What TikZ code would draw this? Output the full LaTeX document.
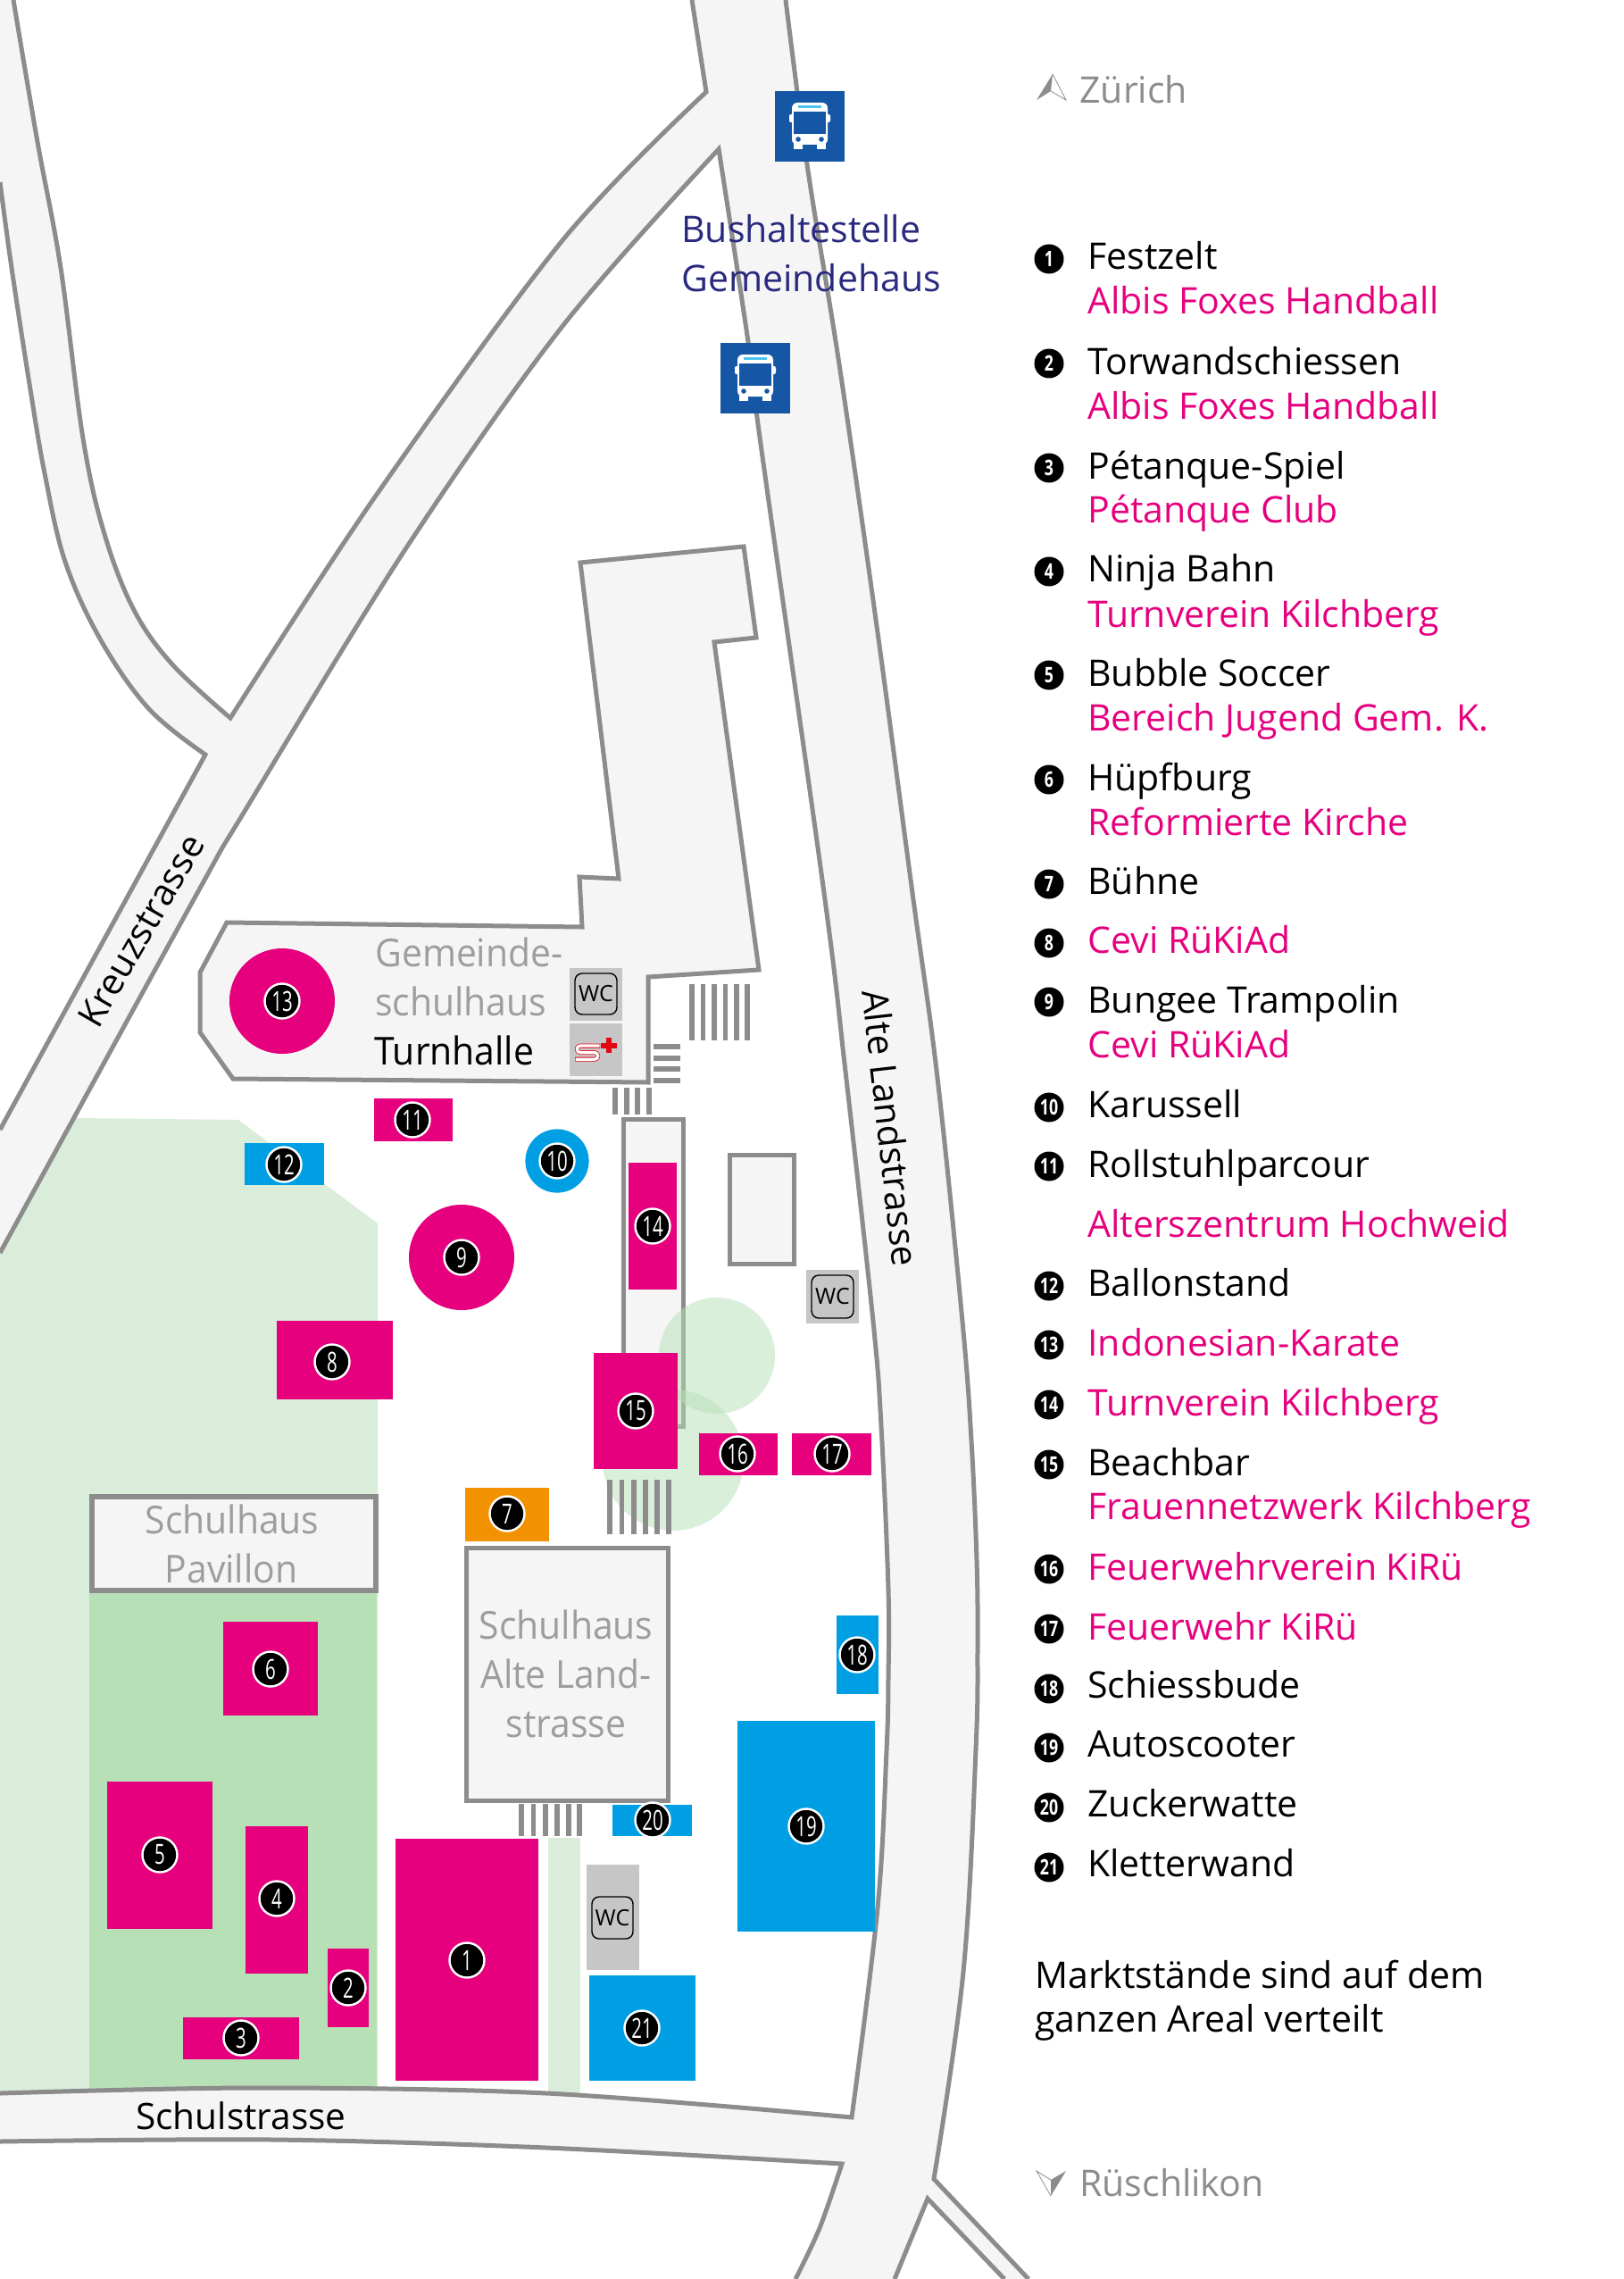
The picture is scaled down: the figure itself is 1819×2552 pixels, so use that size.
\documentclass[tikz,border=0pt]{standalone}
\usepackage{fontspec}
\setmainfont[FakeStretch=1.0]{Open Sans}
\newfontfamily\bldfont[FakeStretch=0.95]{Open Sans}
\newfontfamily\numfont[FakeStretch=0.66]{Open Sans}
\newfontfamily\legnum[FakeStretch=0.74]{Open Sans}
\definecolor{mpink}{HTML}{E6007E}
\definecolor{mblue}{HTML}{009FE3}
\definecolor{morange}{HTML}{F39200}
\definecolor{roadfill}{HTML}{F5F5F5}
\definecolor{roadline}{HTML}{8C8C8C}
\definecolor{lgreen}{HTML}{D9EDDA}
\definecolor{dgreen}{HTML}{B7E0B7}
\definecolor{busblue}{HTML}{1557A4}
\definecolor{bustext}{HTML}{29297F}
\definecolor{bldtext}{HTML}{9D9D9C}
\definecolor{wcgrey}{HTML}{C6C6C6}
\definecolor{scyan}{HTML}{4FC3F0}
\definecolor{crossred}{HTML}{E30613}
\def\eA{-- plot[smooth,tension=.6] coordinates {(15,0)(42,159)(68,300)(93,491)(117,598)(150,683)(193,744)(258,804)} -- plot[smooth,tension=.55] coordinates {(258,804)(421,555)(631,268)(791,103)} -- (775,0)}
\def\eB{-- plot[smooth,tension=.6] coordinates {(880,0)(905,191)(940,408)(982,701)(1022,1000)(1050,1207)(1078,1480)(1088,1613)(1094,1747)(1095,1847)(1093,1960)(1079,2208)(1046,2440)} -- (1152,2552)}
\def\eC{-- (1125,2552) -- (1039,2462) -- (1002,2552)}
\def\eD{-- plot[smooth,tension=.55] coordinates {(891,2552)(918,2495)(943,2423)} -- plot[smooth,tension=.55] coordinates {(943,2423)(612,2405)(306,2396)(0,2398)}}
\def\eE{-- plot[smooth,tension=.55] coordinates {(0,2344)(283,2338)(612,2344)(954,2371)} -- plot[smooth,tension=.6] coordinates {(954,2371)(983,2136)(993,1960)(995,1880)(995,1780)(987,1597)(978,1480)(947,1200)(923,1000)(852,497)(838,383)(805,167)} -- plot[smooth,tension=.55] coordinates {(805,167)(631,364)(456,612)(273,910)(221,1000)(0,1403)}}
\def\eF{-- (0,1265) -- (230,845) -- plot[smooth,tension=.6] coordinates {(230,845)(167,794)(113,717)(73,629)(50,530)(33,430)(13,300)(0,204)}}
\tikzset{
 x=0.5pt,y=-0.5pt,
 roadedge/.style={draw=roadline,line width=2.5pt,line join=miter},
 bld/.style={draw=roadline,fill=roadfill,line width=2.5pt,line join=miter},
 bld2/.style={draw=roadline,fill=roadfill,line width=3.2pt,line join=miter},
 stripe/.style={draw=roadline,line width=2.7pt},
 pinkbox/.style={fill=mpink},
 bluebox/.style={fill=mblue},
 orangebox/.style={fill=morange},
 wcbox/.style={fill=wcgrey},
 wcin/.style={draw=black,line width=0.7pt,rounded corners=4pt},
 wctext/.style={inner sep=0pt,font=\fontsize{12.5}{12}\selectfont},
 badge/.style={circle,fill=black,draw=white,line width=1.2pt,minimum size=19.5pt,inner sep=0pt,text=white,font=\numfont\fontsize{15.5}{16}\selectfont},
 legdot/.style={circle,fill=black,minimum size=16.5pt,inner sep=0pt,text=white,font=\legnum\bfseries\fontsize{12}{12}\selectfont},
 txt/.style={anchor=base west,inner sep=0pt,font=\fontsize{20.5}{24}\selectfont},
 legk/.style={txt,text=black},
 legp/.style={txt,text=mpink},
 graytxt/.style={txt,text=roadline},
 bldt/.style={anchor=base west,inner sep=0pt,text=bldtext,font=\bldfont\fontsize{21.5}{24}\selectfont},
 bldc/.style={bldt,anchor=base},
 street/.style={anchor=base,inner sep=0pt,text=black,font=\fontsize{20.3}{24}\selectfont},
 bustxt/.style={txt,text=bustext},
}
\newcommand{\busicon}[2]{%
 \begin{scope}[shift={(#1,#2)}]
  \fill[busblue] (0,0) rectangle (78,79);
  \fill[white,rounded corners=3pt] (19,13) rectangle (59,60);
  \fill[white,rounded corners=1pt] (16,26) rectangle (62,35);
  \fill[white] (21,55) rectangle (31,65);
  \fill[white] (47,55) rectangle (57,65);
  \fill[busblue] (21,23) rectangle (57,48);
  \fill[scyan] (26,16) rectangle (52,19);
  \fill[busblue] (26,54) circle (1.4pt);
  \fill[busblue] (52,54) circle (1.4pt);
 \end{scope}}
\begin{document}
\begin{tikzpicture}
\useasboundingbox (0,0) rectangle (1819,2552);
\fill[white] (0,0) rectangle (1819,2552);
% green areas
\fill[lgreen] (0,1403) -- (84,1252) -- (267,1254) -- (423,1370) -- (423,2345) -- (0,2345) -- cycle;
\fill[dgreen] (100,1780) rectangle (422,2345);
\fill[lgreen] (614,2058) rectangle (650,2350);
% road network
\fill[roadfill] (15,0) \eA \eB \eC \eD \eE \eF -- (0,0) -- cycle;
\draw[roadedge] (15,0) \eA;
\draw[roadedge] (880,0) \eB;
\draw[roadedge] (1125,2552) \eC;
\draw[roadedge] (891,2552) \eD;
\draw[roadedge] (0,2344) \eE;
\draw[roadedge] (0,1265) \eF;
% buildings
\draw[bld] (650,630) -- (833,612) -- (847,714) -- (800,719) -- (850,1086) -- (726,1094) -- (726,1212) -- (261,1208) -- (224,1156) -- (224,1089) -- (254,1033) -- (652,1038) -- (649,982) -- (693,984) -- cycle;
\draw[bld] (698,1253) rectangle (765,1597);
\draw[bld] (817,1293) rectangle (889,1415);
\draw[bld2] (103,1676) rectangle (421,1781);
\draw[bld] (522,1733) rectangle (748,2016);
% tree circles
\fill[dgreen,opacity=.5] (803,1518) circle (32.5pt);
\fill[dgreen,opacity=.5] (754,1635) circle (39.5pt);
% stripes
\foreach \x in {775,787.5,800,812.5,825,837} \draw[stripe] (\x,1102) -- (\x,1165);
\foreach \y in {1172,1185,1197,1210} \draw[stripe] (732,\y) -- (762,\y);
\foreach \x in {689,702,714,727} \draw[stripe] (\x,1218) -- (\x,1248);
\foreach \x in {683,696.5,710,723,736,749} \draw[stripe] (\x,1657) -- (\x,1718);
\foreach \x in {584,597.5,611,624,637,649} \draw[stripe] (\x,2020) -- (\x,2056);
% service boxes
\fill[wcbox] (638,1084) rectangle (697,1143);
\fill[wcbox] (638,1146) rectangle (697,1205);
\fill[wcbox] (903,1422) rectangle (962,1482);
\fill[wcbox] (657,2088) rectangle (716,2206);
\draw[wcin] (644,1090) rectangle (691,1136);
\draw[wcin] (909,1428) rectangle (956,1476);
\draw[wcin] (663,2124) rectangle (709,2171);
\node[wctext] (wc1) at (667.5,1113) {WC};
\node[wctext] (wc2) at (932.5,1452) {WC};
\node[wctext] (wc3) at (686,2148) {WC};
% first-aid logo
\draw[crossred,line width=2.5pt,line join=round] (672,1171) -- (650,1171) arc[start angle=90,end angle=270,radius=1.9pt] -- (666,1178.6) arc[start angle=90,end angle=-90,radius=1.9pt] -- (644,1186.2);
\draw[white,line width=1.7pt,line join=round] (671.5,1171) -- (650,1171) arc[start angle=90,end angle=270,radius=1.9pt] -- (666,1178.6) arc[start angle=90,end angle=-90,radius=1.9pt] -- (644.5,1186.2);
\fill[crossred] (673,1167.5) rectangle (691,1173.5);
\fill[crossred] (679,1162) rectangle (685,1179);
% stands
\fill[pinkbox] (316,1121) circle (29.5pt);
\fill[pinkbox] (517,1408) circle (29.5pt);
\fill[bluebox] (624,1300) circle (17.8pt);
\fill[pinkbox] (419,1230) rectangle (507,1278);
\fill[bluebox] (274,1280) rectangle (363,1327);
\fill[pinkbox] (704,1302) rectangle (758,1444);
\fill[pinkbox] (310,1479) rectangle (440,1567);
\fill[pinkbox] (665,1515) rectangle (759,1645);
\fill[pinkbox] (783,1605) rectangle (871,1652);
\fill[pinkbox] (887,1605) rectangle (976,1652);
\fill[orangebox] (521,1666) rectangle (615,1726);
\fill[bluebox] (937,1809) rectangle (984,1897);
\fill[bluebox] (826,1927) rectangle (980,2163);
\fill[bluebox] (686,2021) rectangle (775,2056);
\fill[bluebox] (660,2212) rectangle (779,2330);
\fill[pinkbox] (443,2059) rectangle (603,2330);
\fill[pinkbox] (367,2182) rectangle (413,2270);
\fill[pinkbox] (205,2259) rectangle (335,2306);
\fill[pinkbox] (275,2045) rectangle (345,2210);
\fill[pinkbox] (120,1995) rectangle (238,2160);
\fill[pinkbox] (250,1816) rectangle (356,1921);
% badges
\node[badge] (b1) at (523,2195) {1};
\node[badge] (b2) at (390,2226) {2};
\node[badge] (b3) at (270,2282) {3};
\node[badge] (b4) at (310,2126) {4};
\node[badge] (b5) at (179,2077) {5};
\node[badge] (b6) at (303,1869) {6};
\node[badge] (b7) at (568,1695) {7};
\node[badge] (b8) at (372,1525) {8};
\node[badge] (b9) at (517,1408) {9};
\node[badge] (b10) at (624,1300) {10};
\node[badge] (b11) at (462,1254) {11};
\node[badge] (b12) at (318,1304) {12};
\node[badge] (b13) at (316,1121) {13};
\node[badge] (b14) at (731,1373) {14};
\node[badge] (b15) at (712,1580) {15};
\node[badge] (b16) at (826,1628) {16};
\node[badge] (b17) at (932,1628) {17};
\node[badge] (b18) at (960,1853) {18};
\node[badge] (b19) at (903,2045) {19};
\node[badge] (b20) at (731,2038) {20};
\node[badge] (b21) at (719,2271) {21};
% building labels
\node[bldt] (g1) at (420,1082) {Gemeinde-};
\node[bldt] (g2) at (420,1137) {schulhaus};
\node[bldt,text=black] (g3) at (419,1192) {Turnhalle};
\node[bldc] (p1) at (260,1717) {Schulhaus};
\node[bldc] (p2) at (259,1772) {Pavillon};
\node[bldc] (a1) at (634,1835) {Schulhaus};
\node[bldc] (a2) at (634,1890) {Alte Land-};
\node[bldc] (a3) at (634,1945) {strasse};
% street labels
\node[street] (s1) at (270,2384) {Schulstrasse};
\node[street,anchor=center,rotate=60] (s2) at (158,1042) {Kreuzstrasse};
\node[street,anchor=center,rotate=-83.5] (s3) at (998,1263) {Alte Landstrasse};
% bus
\busicon{868}{102}
\busicon{807}{384}
\node[bustxt] (h1) at (763,272) {Bushaltestelle};
\node[bustxt] (h2) at (763,327) {Gemeindehaus};
% direction labels
\fill[roadline] (1179,83) -- (1161,112) -- (1177,102) -- cycle;
\draw[roadline,line width=0.4pt,line join=miter] (1179,83) -- (1194,112) -- (1177,102);
\node[graytxt] (z) at (1209,116) {Zürich};
\fill[roadline] (1177,2459) -- (1194,2431) -- (1177,2441) -- cycle;
\draw[roadline,line width=0.4pt,line join=miter] (1177,2459) -- (1161,2431) -- (1177,2441);
\node[graytxt] (r) at (1209,2459) {Rüschlikon};
% legend
\node[legdot] (d1) at (1175,290) {1};
\node[legk] (t1) at (1218,302) {Festzelt};
\node[legp] (u1) at (1218,352) {Albis Foxes Handball};
\node[legdot] (d2) at (1175,407) {2};
\node[legk] (t2) at (1218,419) {Torwandschiessen};
\node[legp] (u2) at (1218,469) {Albis Foxes Handball};
\node[legdot] (d3) at (1175,524) {3};
\node[legk] (t3) at (1218,536) {Pétanque-Spiel};
\node[legp] (u3) at (1218,585) {Pétanque Club};
\node[legdot] (d4) at (1175,640) {4};
\node[legk] (t4) at (1218,651) {Ninja Bahn};
\node[legp] (u4) at (1218,702) {Turnverein Kilchberg};
\node[legdot] (d5) at (1175,756) {5};
\node[legk] (t5) at (1218,768) {Bubble Soccer};
\node[legp] (u5) at (1218,818) {Bereich Jugend Gem. K.};
\node[legdot] (d6) at (1175,873) {6};
\node[legk] (t6) at (1218,885) {Hüpfburg};
\node[legp] (u6) at (1218,935) {Reformierte Kirche};
\node[legdot] (d7) at (1175,990) {7};
\node[legk] (t7) at (1218,1001) {Bühne};
\node[legdot] (d8) at (1175,1056) {8};
\node[legp] (u8) at (1218,1067) {Cevi RüKiAd};
\node[legdot] (d9) at (1175,1122) {9};
\node[legk] (t9) at (1218,1134) {Bungee Trampolin};
\node[legp] (u9) at (1218,1184) {Cevi RüKiAd};
\node[legdot] (d10) at (1175,1240) {10};
\node[legk] (t10) at (1218,1251) {Karussell};
\node[legdot] (d11) at (1175,1306) {11};
\node[legk] (t11) at (1218,1318) {Rollstuhlparcour};
\node[legp] (u11) at (1218,1385) {Alterszentrum Hochweid};
\node[legdot] (d12) at (1175,1440) {12};
\node[legk] (t12) at (1218,1451) {Ballonstand};
\node[legdot] (d13) at (1175,1506) {13};
\node[legp] (u13) at (1218,1518) {Indonesian-Karate};
\node[legdot] (d14) at (1175,1573) {14};
\node[legp] (u14) at (1218,1585) {Turnverein Kilchberg};
\node[legdot] (d15) at (1175,1640) {15};
\node[legk] (t15) at (1218,1652) {Beachbar};
\node[legp] (u15) at (1218,1701) {Frauennetzwerk Kilchberg};
\node[legdot] (d16) at (1175,1757) {16};
\node[legp] (u16) at (1218,1769) {Feuerwehrverein KiRü};
\node[legdot] (d17) at (1175,1824) {17};
\node[legp] (u17) at (1218,1836) {Feuerwehr KiRü};
\node[legdot] (d18) at (1175,1891) {18};
\node[legk] (t18) at (1218,1901) {Schiessbude};
\node[legdot] (d19) at (1175,1957) {19};
\node[legk] (t19) at (1218,1967) {Autoscooter};
\node[legdot] (d20) at (1175,2024) {20};
\node[legk] (t20) at (1218,2034) {Zuckerwatte};
\node[legdot] (d21) at (1175,2091) {21};
\node[legk] (t21) at (1218,2101) {Kletterwand};
\node[legk] (m1) at (1159,2226) {Marktstände sind auf dem};
\node[legk] (m2) at (1159,2275) {ganzen Areal verteilt};
\end{tikzpicture}
\end{document}
